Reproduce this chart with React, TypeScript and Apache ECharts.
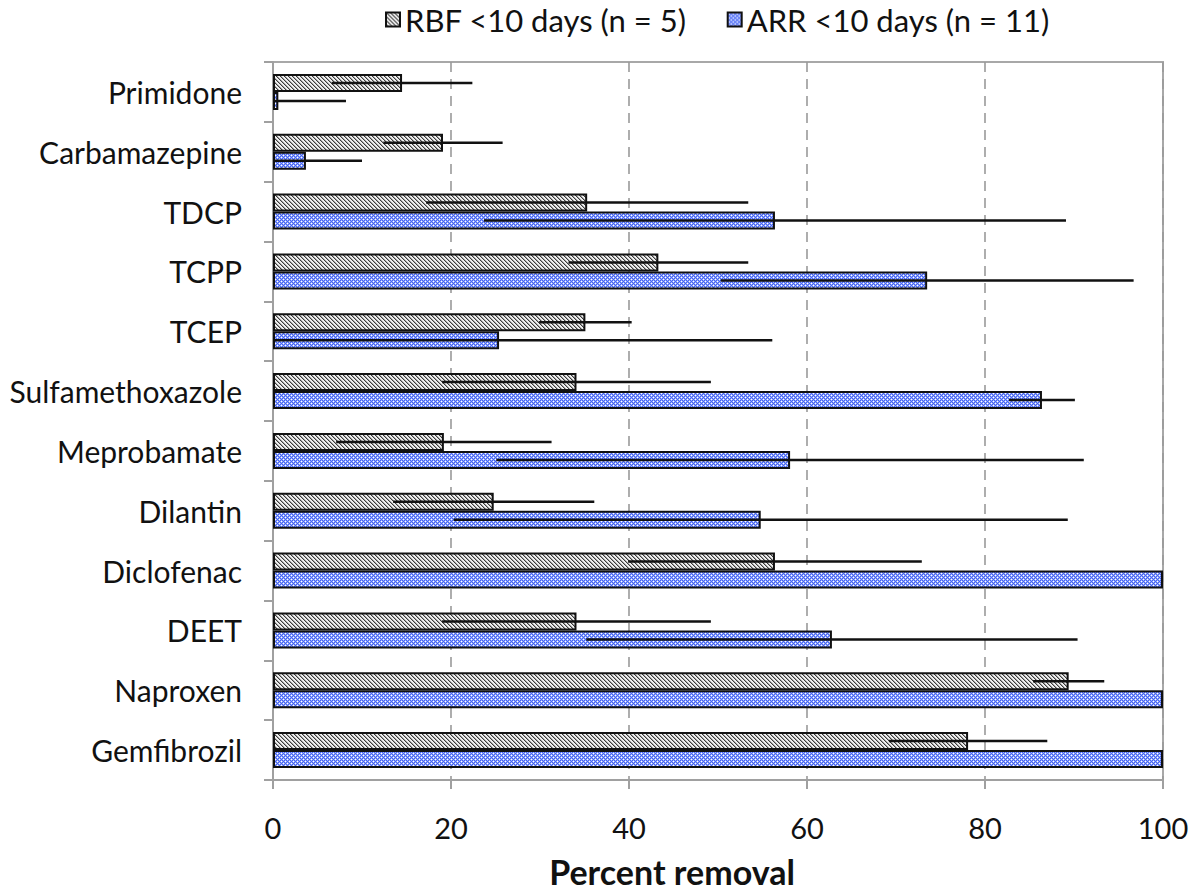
import React, { useEffect, useRef } from 'react';
import * as echarts from 'echarts';

const categories = ['Primidone', 'Carbamazepine', 'TDCP', 'TCPP', 'TCEP', 'Sulfamethoxazole', 'Meprobamate', 'Dilantin', 'Diclofenac', 'DEET', 'Naproxen', 'Gemfibrozil'];
const rbfMean = [14.5, 19.1, 35.3, 43.3, 35.1, 34.1, 19.2, 24.8, 56.4, 34.1, 89.4, 78.1];
const rbfSd = [7.9, 6.7, 18.1, 10.1, 5.2, 15.1, 12.1, 11.3, 16.5, 15.1, 4.0, 8.9];
const arrMean = [0.6, 3.7, 56.4, 73.5, 25.4, 86.4, 58.1, 54.8, 100, 62.8, 100, 100];
const arrSd = [7.6, 6.3, 32.7, 23.2, 30.7, 3.7, 33.0, 34.5, 0, 27.6, 0, 0];
const seriesNames = ['RBF <10 days (n = 5)', 'ARR <10 days (n = 11)'];
const axisTitle = 'Percent removal';

const FONT = 'Lato, "Open Sans", sans-serif';

function makePattern(kind: 'hatch' | 'dots'): string {
  const size = 8;
  const c = document.createElement('canvas');
  c.width = size;
  c.height = size;
  const ctx = c.getContext('2d')!;
  const img = ctx.createImageData(size, size);
  for (let y = 0; y < size; y++) {
    for (let x = 0; x < size; x++) {
      let r: number, g: number, b: number;
      if (kind === 'hatch') {
        const m = ((x - y) % 4 + 4) % 4;
        if (m === 0) { r = 60; g = 60; b = 60; }
        else if (m === 1) { r = 165; g = 165; b = 165; }
        else { r = 240; g = 240; b = 240; }
      } else {
        const on = (x % 4 === 1 && y % 4 === 1) || (x % 4 === 3 && y % 4 === 3);
        const near = (x % 2 === 1) !== (y % 2 === 1);
        if (on) { r = 255; g = 255; b = 255; }
        else if (near) { r = 150; g = 170; b = 252; }
        else { r = 70; g = 100; b = 242; }
      }
      const i = (y * size + x) * 4;
      img.data[i] = r; img.data[i + 1] = g; img.data[i + 2] = b; img.data[i + 3] = 255;
    }
  }
  ctx.putImageData(img, 0, 0);
  return c.toDataURL();
}

const BAR_W = 18;

export default function App() {
  const ref = useRef<HTMLDivElement>(null);
  useEffect(() => {
    if (!ref.current) return;
    const chart = echarts.init(ref.current, null, { renderer: 'svg' });
    const hatch = { image: makePattern('hatch'), repeat: 'repeat' };
    const dots = { image: makePattern('dots'), repeat: 'repeat' };

    const errSeries = (means: number[], sds: number[], off: number) => ({
      type: 'custom',
      silent: true,
      z: 10,
      encode: { x: [1, 2], y: 0 },
      data: means.map((m, i) => [i, m - sds[i], m + sds[i]]),
      renderItem: (params: any, api: any) => {
        const i = api.value(0);
        const lo = Math.max(0, api.value(1));
        const hi = Math.min(100, api.value(2));
        if (hi - lo <= 0) return null;
        const a = api.coord([lo, i]);
        const b = api.coord([hi, i]);
        return {
          type: 'line',
          shape: { x1: a[0], y1: a[1] + off, x2: b[0], y2: b[1] + off },
          style: { stroke: '#111', lineWidth: 2.5 },
        };
      },
    });

    chart.setOption({
      animation: false,
      backgroundColor: '#fff',
      textStyle: { fontFamily: FONT },
      legend: {
        data: seriesNames,
        left: 380,
        top: -1,
        itemWidth: 14,
        itemHeight: 14,
        itemGap: 40,
        icon: 'rect',
        textStyle: { fontSize: 31, color: '#111', fontFamily: FONT },
      },
      graphic: [
        {
          type: 'text',
          x: 672,
          y: 871,
          style: {
            text: axisTitle,
            fontSize: 34,
            fontWeight: 'bold',
            fill: '#111',
            fontFamily: FONT,
            align: 'center',
            verticalAlign: 'middle',
          },
        },
      ],
      grid: {
        left: 273,
        right: 29,
        top: 62,
        bottom: 113,
        show: true,
        borderColor: '#a8a8a8',
        borderWidth: 2,
      },
      xAxis: {
        type: 'value',
        min: 0,
        max: 100,
        interval: 20,
        axisLine: { show: true, lineStyle: { color: '#a0a0a0', width: 2 } },
        axisTick: { show: true, length: 9, lineStyle: { color: '#a0a0a0', width: 2 } },
        axisLabel: { fontSize: 29, color: '#111', margin: 33, fontFamily: FONT },
        splitLine: { show: true, lineStyle: { color: '#9a9a9a', width: 1.6, type: [10, 7] } },
      },
      yAxis: {
        type: 'category',
        data: categories,
        inverse: true,
        axisLine: { show: true, lineStyle: { color: '#a0a0a0', width: 2 } },
        axisTick: { show: true, length: 9, lineStyle: { color: '#a0a0a0', width: 2 } },
        axisLabel: { fontSize: 30, color: '#111', margin: 31, fontFamily: FONT, padding: [8, 0, 0, 0] },
      },
      series: [
        {
          name: seriesNames[0],
          type: 'bar',
          data: rbfMean,
          barWidth: BAR_W,
          barGap: '0%',
          itemStyle: { color: hatch as any, borderColor: '#111', borderWidth: 2 },
        },
        {
          name: seriesNames[1],
          type: 'bar',
          data: arrMean,
          barWidth: BAR_W,
          barGap: '0%',
          itemStyle: { color: dots as any, borderColor: '#111', borderWidth: 2 },
        },
        errSeries(rbfMean, rbfSd, -BAR_W / 2),
        errSeries(arrMean, arrSd, BAR_W / 2),
      ],
    } as any);
    return () => chart.dispose();
  }, []);
  return <div ref={ref} style={{ position: 'fixed', left: 0, top: 0, width: 1192, height: 893 }} />;
}
